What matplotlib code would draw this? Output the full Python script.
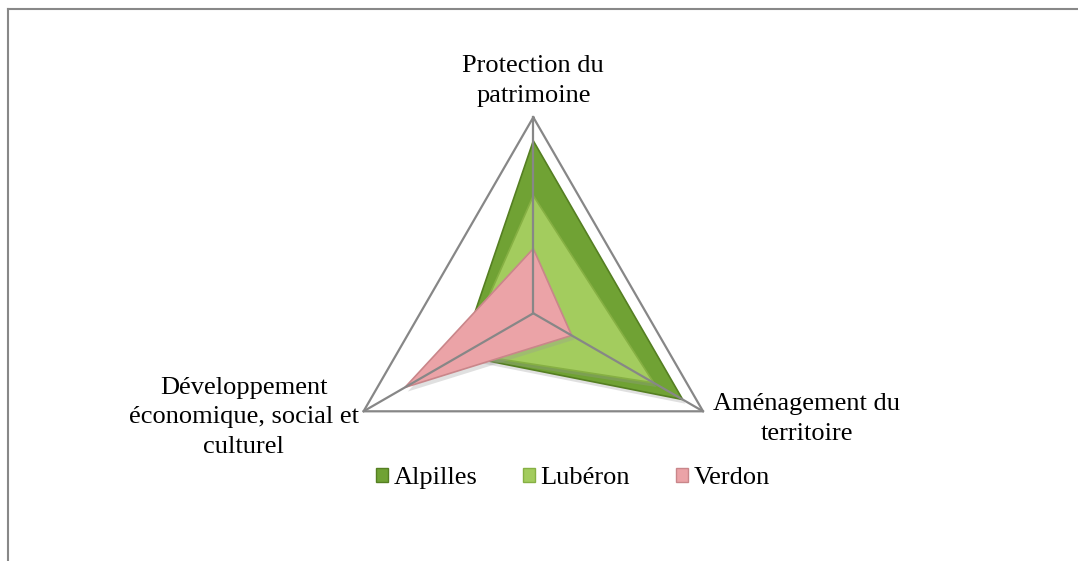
import numpy as np
import matplotlib
matplotlib.use("Agg")
import matplotlib.pyplot as plt
from matplotlib.patches import Patch
from matplotlib.lines import Line2D
import matplotlib.patheffects as pe

categories = ["Protection du\npatrimoine", "Aménagement du\nterritoire",
              "Développement\néconomique, social et\nculturel"]
series_names = ["Alpilles", "Lubéron", "Verdon"]
alpilles = [4.4, 4.4, 2.15]
luberon = [3.0, 3.55, 2.05]
verdon = [1.65, 1.13, 3.78]
scale_max = 5.0

fills = ["#70A234", "#A3CC5E", "#EBA3A7"]
edges = ["#557F22", "#86B043", "#C9868A"]
grid_color = "#878787"
font = "Liberation Serif"
fs = 19

W, H = 1078, 561
fig = plt.figure(figsize=(W / 100, H / 100), dpi=100)
fig.patch.set_facecolor("white")

cx, cy, R = 533.3, 313.3, 196.0
ax = fig.add_axes([(cx - R) / W, (H - cy - R) / H, 2 * R / W, 2 * R / H],
                  projection="polar")
ax.set_theta_offset(np.pi / 2)
ax.set_theta_direction(-1)
ax.set_ylim(0, scale_max)
ax.axis("off")

n = len(categories)
angles = np.arange(n) * 2 * np.pi / n
ang_c = np.concatenate([angles, angles[:1]])

for vals, fc, ec in zip([alpilles, luberon, verdon], fills, edges):
    v = np.concatenate([vals, vals[:1]])
    ax.fill(ang_c, v, facecolor=fc, edgecolor=ec, linewidth=1.2, zorder=2,
            path_effects=[pe.SimplePatchShadow(offset=(2, -3), shadow_rgbFace="#999999", alpha=0.3),
                          pe.Normal()])

# outer frame and spokes
ax.plot(ang_c, [scale_max] * (n + 1), color=grid_color, lw=1.6, zorder=5, clip_on=False)
for a in angles:
    ax.plot([a, a], [0, scale_max], color=grid_color, lw=1.6, zorder=5, clip_on=False)

# category labels
offsets = [(0, 36), (10, -8), (-5, -6)]
has = ["center", "left", "right"]
for a, lab, off, ha in zip(angles, categories, offsets, has):
    ax.annotate(lab, xy=(a, scale_max), xytext=off, textcoords="offset pixels",
                ha=ha, va="center", multialignment="center", linespacing=1.45,
                fontsize=fs, family=font, annotation_clip=False)

handles = [Patch(facecolor=fc, edgecolor=ec, linewidth=1.0) for fc, ec in zip(fills, edges)]
leg = fig.legend(handles, series_names, loc="center", bbox_to_anchor=(573 / W, 1 - 478 / H),
                 ncol=3, frameon=False, prop={"family": font, "size": fs},
                 handlelength=0.45, handleheight=0.45, handletextpad=0.2,
                 columnspacing=1.75, borderpad=0)

# chart border (top and left visible)
fig.add_artist(Line2D([7.5 / W, 1.0], [1 - 8.5 / H, 1 - 8.5 / H], transform=fig.transFigure,
                      color="#888888", lw=1.5))
fig.add_artist(Line2D([7.5 / W, 7.5 / W], [0, 1 - 8.5 / H], transform=fig.transFigure,
                      color="#888888", lw=1.5))

fig.savefig("out.png", dpi=100, facecolor="white")
